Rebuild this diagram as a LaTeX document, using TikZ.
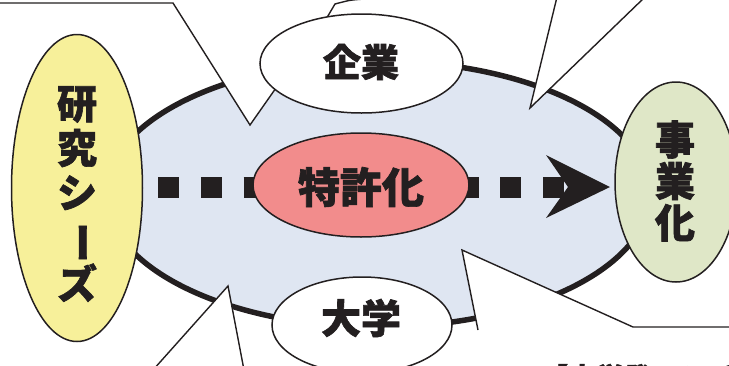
\documentclass[tikz,border=0pt]{standalone}
\usepackage{fontspec}
\usepackage{graphicx}
\usetikzlibrary{shapes.geometric}
\newfontfamily\jp{Noto Sans CJK JP}[BoldFeatures={FakeBold=1.6}]
\definecolor{ink}{HTML}{231F20}
\definecolor{bigblue}{HTML}{DFE6F2}
\definecolor{seedyellow}{HTML}{F7F09A}
\definecolor{patentred}{HTML}{F28C8C}
\definecolor{bizgreen}{HTML}{DFE7C7}
\begin{document}
\begin{tikzpicture}[x=1pt,y=-1pt,
  bubble/.style={ellipse, draw=ink, line width=1.5pt, inner sep=0pt},
  callout/.style={draw=ink, line width=1.4pt, line join=miter},
  calloutfill/.style={fill=white},
  jtext/.style={font=\jp\bfseries\fontsize{40}{44}\selectfont, text=ink, inner sep=0pt, align=center}]
\useasboundingbox (0,0) rectangle (729,365);
\clip (0,0) rectangle (729,365);

% big field ellipse
\node[bubble, line width=5.5pt, fill=bigblue, minimum width=544pt, minimum height=266pt] (field) at (378,194) {};

% dotted flow arrow
\coordinate (dstart) at (158,187);
\coordinate (dend) at (564,187);
\coordinate (tip) at (610,187);
\coordinate (wingtop) at (546,155);
\coordinate (wingbot) at (546,218);
\coordinate (notch) at (568,187);
\draw[ink, line width=21pt, dash pattern=on 21pt off 21.8pt] (dstart) -- (dend);
\fill[ink] (wingtop) -- (tip) -- (wingbot) -- (notch) -- cycle;

% patent ellipse
\node[bubble, fill=patentred, minimum width=216pt, minimum height=104pt] (patent) at (361,185) {};
\node[jtext, font=\jp\bfseries\fontsize{42}{44}\selectfont] (patenttext) at (361,187) {特許化};

% research seeds
\node[bubble, fill=seedyellow, minimum width=131pt, minimum height=307pt] (seeds) at (77,188) {};
\node[jtext, font=\jp\bfseries\fontsize{40}{44.5}\selectfont] (seedstext) at (77,194)
  {研\\究\\シ\\\rotatebox[origin=c]{-90}{ー}\\ズ};

% commercialization
\node[bubble, fill=bizgreen, minimum width=122pt, minimum height=200pt] (biz) at (676,182) {};
\node[jtext, font=\jp\bfseries\fontsize{40}{41.5}\selectfont] (biztext) at (675,181) {事\\業\\化};

% callouts
\coordinate (tlA) at (-5,3);
\coordinate (tlB) at (173,3);
\coordinate (tlTip) at (250,125);
\coordinate (tlC) at (290,68);
\fill[calloutfill] (-5,-5) -- (tlA) -- (tlB) -- (tlTip) -- (tlC) -- (290,-5) -- cycle;
\draw[callout] (tlA) -- (tlB) -- (tlTip) -- (tlC);

\coordinate (trA) at (557,-3);
\coordinate (trTip) at (530,108);
\coordinate (trB) at (645,-3);
\fill[calloutfill] (trA) -- (trTip) -- (trB) -- cycle;
\draw[callout] (trA) -- (trTip) -- (trB);

\coordinate (blA) at (153,370);
\coordinate (blTip) at (228,286);
\coordinate (blB) at (244,370);
\fill[calloutfill] (blA) -- (blTip) -- (blB) -- cycle;
\draw[callout] (blA) -- (blTip) -- (blB);

\coordinate (brA) at (478,330);
\coordinate (brTip) at (462,250);
\coordinate (brB) at (633,327);
\coordinate (brC) at (735,327);
\fill[calloutfill] (brA) -- (brTip) -- (brB) -- (brC) -- (735,370) -- (478,370) -- cycle;
\draw[callout] (brA) -- (brTip) -- (brB) -- (brC);

\coordinate (tcA) at (365,-1);
\coordinate (tcB) at (335,4);
\coordinate (tcC) at (322,26);
\draw[callout] (tcA) .. controls (350,0) .. (tcB) -- (tcC);

% company and university
\node[bubble, fill=white, minimum width=203pt, minimum height=99pt] (company) at (361.5,63.5) {};
\node[jtext, font=\jp\bfseries\fontsize{38}{40}\selectfont] (companytext) at (361,62) {企業};
\node[bubble, fill=white, minimum width=180pt, minimum height=96pt] (univ) at (362,325) {};
\node[jtext, font=\jp\bfseries\fontsize{40}{40}\selectfont] (univtext) at (361,318) {大学};

% cut-off caption
\node[font=\jp\bfseries\fontsize{28}{30}\selectfont, text=ink, inner sep=0pt, anchor=base west] (caption) at (540,388) {【大学発ベンチャー】};
\end{tikzpicture}
\end{document}
